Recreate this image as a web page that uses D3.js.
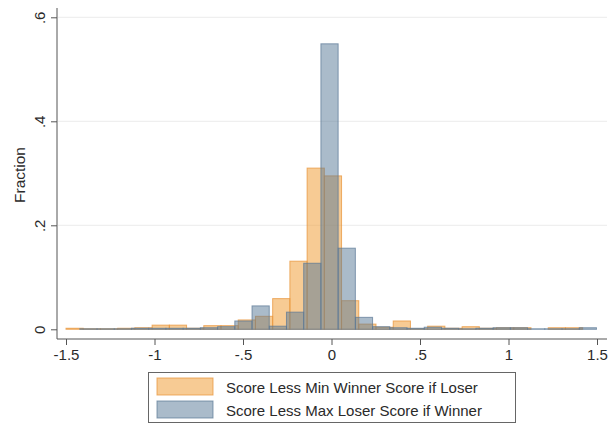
<!DOCTYPE html>
<html>
<head>
<meta charset="utf-8">
<script src="https://cdn.jsdelivr.net/npm/d3@7"></script>
<style>
  body { margin: 0; background: #fff; }
  svg { display: block; font-family: "Liberation Sans", Arial, sans-serif; }
</style>
</head>
<body>
<svg id="chart" width="608" height="428"></svg>
<script>
// histogram bins (fraction per bin), both series use 30 bins
var binWidth = 0.0973;
var loserStart = -1.5;
var winnerStart = -1.422;
var loserFrac = [0.002, 0.001, 0.001, 0.002, 0.003, 0.008, 0.008, 0.002, 0.007, 0.007,
                 0.018, 0.025, 0.059, 0.131, 0.310, 0.295, 0.055, 0.010, 0.004, 0.016,
                 0.001, 0.006, 0.002, 0.005, 0.002, 0.003, 0.003, 0.000, 0.003, 0.003];
var winnerFrac = [0.001, 0.001, 0.001, 0.002, 0.002, 0.002, 0.002, 0.003, 0.005, 0.016,
                  0.045, 0.006, 0.033, 0.127, 0.549, 0.156, 0.023, 0.005, 0.003, 0.002,
                  0.004, 0.002, 0.001, 0.002, 0.003, 0.003, 0.001, 0.001, 0.001, 0.003];
var xTicks = [-1.5, -1, -0.5, 0, 0.5, 1, 1.5];
var yTicks = [0, 0.2, 0.4, 0.6];
var legendLabels = ["Score Less Min Winner Score if Loser", "Score Less Max Loser Score if Winner"];

var orangeFill = "rgba(240,160,60,0.55)", orangeLine = "rgba(232,150,60,0.75)";
var blueFill = "rgba(85,120,150,0.5)", blueLine = "rgba(90,120,150,0.7)";
var textCol = "#2a2a2a";

var svg = d3.select("#chart");

var x = d3.scaleLinear().domain([-1.5, 1.5]).range([66, 597]);
var y = d3.scaleLinear().domain([0, 0.6]).range([329.3, 17.3]);

// stata style labels: ".5", "-.5"
function fmt(v) {
  return String(v).replace(/^(-?)0\./, "$1.");
}

// grid
svg.append("g").selectAll("line")
  .data(yTicks.slice(1))
  .enter().append("line")
  .attr("x1", 58).attr("x2", 607)
  .attr("y1", function(d) { return y(d); })
  .attr("y2", function(d) { return y(d); })
  .attr("stroke", "#ececec").attr("stroke-width", 1);

function bins(start, fracs) {
  return fracs.map(function(f, i) {
    return { x0: start + i * binWidth, x1: start + (i + 1) * binWidth, v: f };
  });
}

function drawBars(data, fill, stroke) {
  svg.append("g").selectAll("rect")
    .data(data)
    .enter().append("rect")
    .attr("x", function(d) { return x(d.x0); })
    .attr("width", function(d) { return x(d.x1) - x(d.x0); })
    .attr("y", function(d) { return y(d.v); })
    .attr("height", function(d) { return y(0) - y(d.v); })
    .attr("fill", fill)
    .attr("stroke", stroke)
    .attr("stroke-width", 1);
}

drawBars(bins(loserStart, loserFrac), orangeFill, orangeLine);
drawBars(bins(winnerStart, winnerFrac), blueFill, blueLine);

// axes
var xAxis = d3.axisBottom(x).tickValues(xTicks).tickSize(6).tickPadding(4).tickFormat(fmt);
var gx = svg.append("g").attr("transform", "translate(0,339)").call(xAxis);
gx.select(".domain").attr("d", "M57,0H607").attr("stroke", "#555");
gx.selectAll(".tick line").attr("stroke", "#555");
gx.selectAll("text").attr("font-size", 15).attr("fill", textCol)
  .attr("font-family", "Liberation Sans, Arial, sans-serif");

var yAxis = d3.axisLeft(y).tickValues(yTicks).tickSize(6).tickFormat(fmt);
var gy = svg.append("g").attr("transform", "translate(57,0)").call(yAxis);
gy.select(".domain").attr("d", "M0,8V339").attr("stroke", "#555");
gy.selectAll(".tick line").attr("stroke", "#555");
gy.selectAll("text")
  .attr("font-size", 15).attr("fill", textCol)
  .attr("font-family", "Liberation Sans, Arial, sans-serif")
  .attr("x", null).attr("dy", null)
  .attr("text-anchor", "middle")
  .attr("transform", "translate(-12,0) rotate(-90)");

svg.append("text")
  .attr("transform", "translate(25,175) rotate(-90)")
  .attr("text-anchor", "middle")
  .attr("font-size", 15.5).attr("fill", textCol)
  .text("Fraction");

// legend
var leg = svg.append("g");
leg.append("rect").attr("x", 148.5).attr("y", 372.5).attr("width", 367).attr("height", 50)
  .attr("fill", "#fff").attr("stroke", "#666");
var swatch = [[orangeFill, orangeLine], [blueFill, blueLine]];
legendLabels.forEach(function(t, i) {
  leg.append("rect").attr("x", 157).attr("y", 378 + i * 23).attr("width", 56).attr("height", 17)
    .attr("fill", swatch[i][0]).attr("stroke", swatch[i][1]);
  leg.append("text").attr("x", 226).attr("y", 392.5 + i * 23)
    .attr("font-size", 15).attr("fill", textCol).text(t);
});
</script>
</body>
</html>
